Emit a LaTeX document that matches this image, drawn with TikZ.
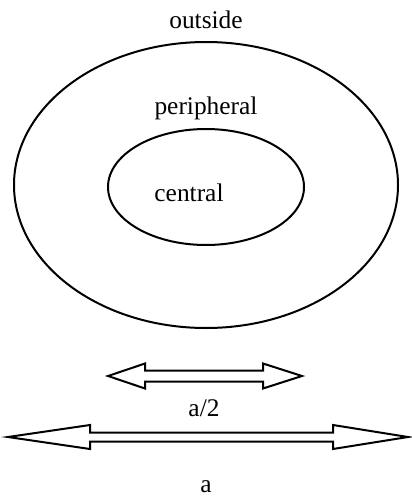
\documentclass[tikz,border=0pt]{standalone}
\usepackage{fontspec}
\setmainfont{Liberation Serif}

\begin{document}
\begin{tikzpicture}[
  x=0.5pt, y=-0.5pt,
  every node/.style = {font=\fontsize{12.7}{15}\selectfont, inner sep=0pt},
  lbl/.style  = {anchor=base},
  ring/.style = {line width=1pt},
  span/.style = {line width=1pt, line join=miter, fill=white},
]
\useasboundingbox (0,0) rectangle (412,498);
% zones
\draw[ring] (206,185) ellipse [x radius=192, y radius=143];
\draw[ring] (206,187) ellipse [x radius=98, y radius=58];
\node[lbl] (outside) at (206,28)  {outside};
\node[lbl] (periph)  at (206,114) {peripheral};
\node[lbl] (central) at (189,201) {central};
% widths
\draw[span] (108,376) -- (145,363.5) -- (145,370.5) -- (263,370.5) -- (263,363.5)
  -- (302,376) -- (263,388.5) -- (263,381.5) -- (145,381.5) -- (145,388.5) -- cycle;
\node[lbl] (half) at (204,416) {a/2};
\draw[span] (8,437) -- (90,425) -- (90,432.5) -- (333,432.5) -- (333,425)
  -- (408,437) -- (333,449) -- (333,441.5) -- (90,441.5) -- (90,449) -- cycle;
\node[lbl] (full) at (206,492) {a};
\end{tikzpicture}
\end{document}
